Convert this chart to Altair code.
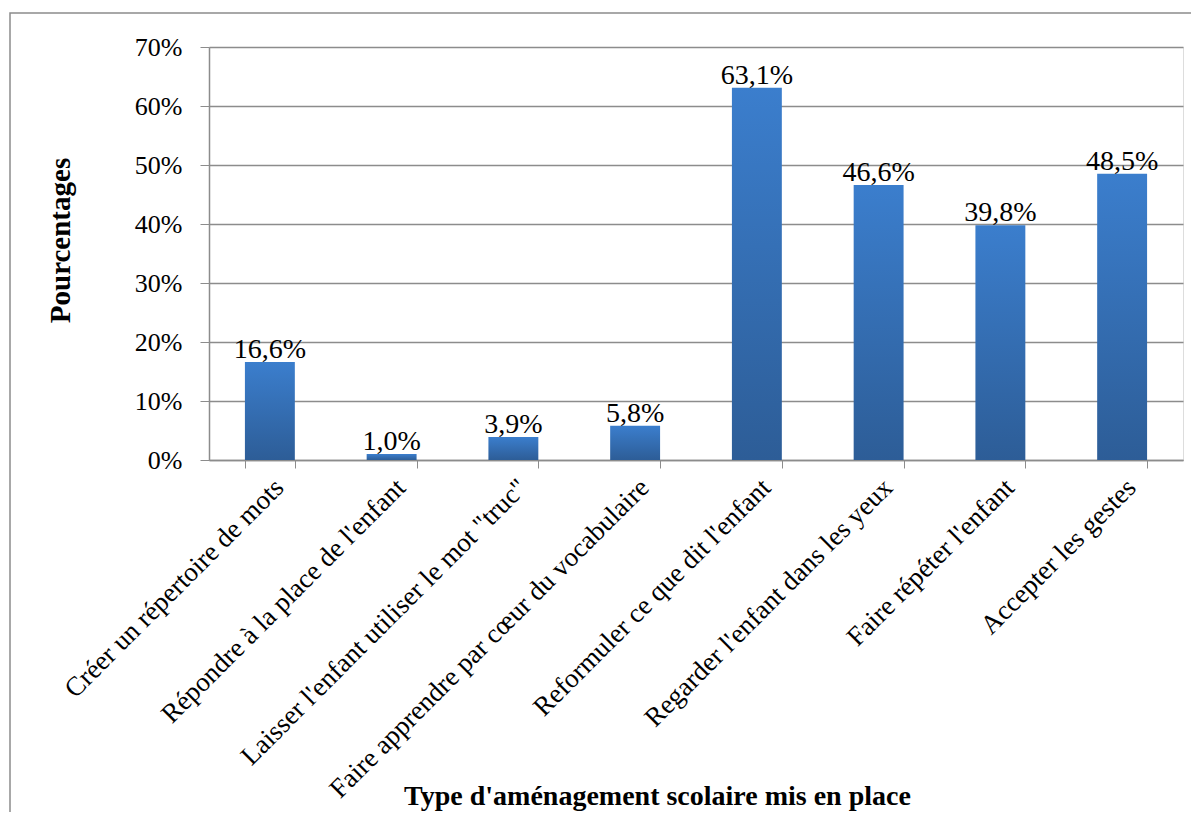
import altair as alt
import pandas as pd

categories = [
    "Créer un répertoire de mots",
    "Répondre à la place de l'enfant",
    "Laisser l'enfant utiliser le mot \"truc\"",
    "Faire apprendre par cœur du vocabulaire",
    "Reformuler ce que dit l'enfant",
    "Regarder l'enfant dans les yeux",
    "Faire répéter l'enfant",
    "Accepter les gestes",
]
values = [16.6, 1.0, 3.9, 5.8, 63.1, 46.6, 39.8, 48.5]
labels = [f"{v:.1f}".replace(".", ",") + "%" for v in values]

df = pd.DataFrame({
    "cat": categories,
    "val": [v / 100 for v in values],
    "lab": labels,
})

FONT = "Liberation Serif"
W, H = 974, 413

grad = alt.Gradient(
    gradient="linear",
    x1=0, y1=0, x2=0, y2=1,
    stops=[
        alt.GradientStop(offset=0, color="#3b7ecd"),
        alt.GradientStop(offset=1, color="#2d5d97"),
    ],
)

x_enc = alt.X(
    "cat:N",
    sort=categories,
    scale=alt.Scale(paddingInner=0.59, paddingOuter=0.295),
    axis=alt.Axis(
        title="Type d'aménagement scolaire mis en place",
        labelAngle=-45,
        labelAlign="right",
        labelBaseline="top",
        labelFont=FONT,
        labelFontSize=27,
        labelColor="#000000",
        labelPadding=6,
        labelOverlap=False,
        labelLimit=0,
        tickBand="extent",
        tickSize=8,
        tickColor="#8c8c8c",
        domainColor="#8c8c8c",
        domainWidth=1.5,
        titleFont=FONT,
        titleFontSize=28,
        titleFontWeight="bold",
        titleColor="#000000",
        titleX=448,
        titleY=336,
        titleAlign="center",
        titleBaseline="middle",
    ),
)

y_enc = alt.Y(
    "val:Q",
    scale=alt.Scale(domain=[0, 0.7], nice=False),
    axis=alt.Axis(
        title="Pourcentages",
        format=".0%",
        values=[0, 0.1, 0.2, 0.3, 0.4, 0.5, 0.6, 0.7],
        grid=True,
        gridColor="#8c8c8c",
        gridWidth=1.5,
        tickSize=9,
        tickColor="#8c8c8c",
        domainColor="#8c8c8c",
        domainWidth=1.5,
        labelFont=FONT,
        labelFontSize=26,
        labelColor="#000000",
        labelPadding=18,
        titleFont=FONT,
        titleFontSize=29,
        titleFontWeight="bold",
        titleColor="#000000",
        titleX=-149,
        titleY=193,
        titleAngle=-90,
        titleAlign="center",
        titleBaseline="middle",
    ),
)

bars = alt.Chart(df).mark_bar(color=grad).encode(x=x_enc, y=y_enc)

text = alt.Chart(df).mark_text(
    font=FONT, fontSize=28, color="#000000", baseline="alphabetic", dy=-4
).encode(x=alt.X("cat:N", sort=categories), y="val:Q", text="lab:N")

border = alt.Chart(pd.DataFrame({"k": [0]})).mark_rect(
    fill=None, stroke="#8c8c8c", strokeWidth=1.5, clip=False
).encode(
    x=alt.value(-199), x2=alt.value(990), y=alt.value(-34), y2=alt.value(800)
)

chart = alt.layer(border, bars, text).properties(
    width=W, height=H,
    autosize=alt.AutoSizeParams(type="none"),
    padding={"left": 201, "top": 39, "right": 8, "bottom": 352},
).configure_view(stroke=None).configure(background="white")

chart.save("out.html", embed_options={"renderer": "svg", "actions": False})
